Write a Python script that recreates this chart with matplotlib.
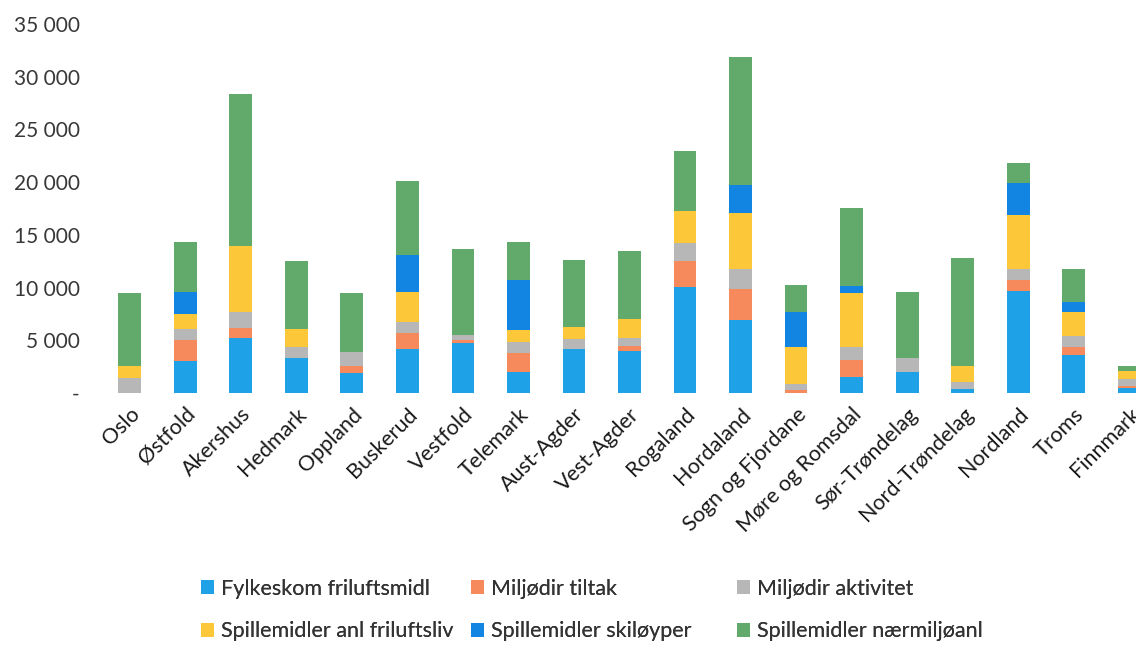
""" Stacked bars of outdoor recreation funding per county
"""

import numpy as np
import matplotlib
matplotlib.use('Agg')
import matplotlib.pyplot as plt
from matplotlib.ticker import FuncFormatter


counties = ['Oslo', 'Østfold', 'Akershus', 'Hedmark', 'Oppland', 'Buskerud',
            'Vestfold', 'Telemark', 'Aust-Agder', 'Vest-Agder', 'Rogaland',
            'Hordaland', 'Sogn og Fjordane', 'Møre og Romsdal', 'Sør-Trøndelag',
            'Nord-Trøndelag', 'Nordland', 'Troms', 'Finnmark']

fylkeskom = [0, 3000, 5200, 3300, 1900, 4200, 4700, 2000, 4200, 4000,
             10050, 6900, 0, 1500, 2000, 400, 9650, 3650, 500]
miljo_tiltak = [0, 2000, 950, 0, 700, 1450, 300, 1750, 0, 500,
                2450, 3000, 300, 1600, 0, 0, 1100, 700, 200]
miljo_aktivitet = [1400, 1100, 1550, 1050, 1250, 1050, 500, 1050, 950, 700,
                   1750, 1900, 600, 1250, 1300, 600, 1050, 1100, 600]
spill_friluftsliv = [1200, 1400, 6200, 1750, 0, 2850, 0, 1150, 1100, 1850,
                     3050, 5250, 3450, 5100, 0, 1600, 5050, 2200, 800]
spill_skiloyper = [0, 2050, 0, 0, 0, 3500, 0, 4750, 0, 0,
                   0, 2700, 3350, 700, 0, 0, 3050, 950, 0]
spill_naermiljo = [6850, 4750, 14500, 6400, 5600, 7050, 8200, 3600, 6400, 6450,
                   5700, 12150, 2500, 7350, 6250, 10250, 1950, 3200, 500]

series = [
    ('Fylkeskom friluftsmidl', fylkeskom, '#1ea1e6'),
    ('Miljødir tiltak', miljo_tiltak, '#f78a5c'),
    ('Miljødir aktivitet', miljo_aktivitet, '#b7b7b7'),
    ('Spillemidler anl friluftsliv', spill_friluftsliv, '#fcc83a'),
    ('Spillemidler skiløyper', spill_skiloyper, '#1285e3'),
    ('Spillemidler nærmiljøanl', spill_naermiljo, '#62a96c'),
]

plt.rcParams['font.family'] = ['Lato', 'DejaVu Sans']

fig = plt.figure(figsize=(11.36, 6.5), dpi=100)
ax = fig.add_axes([0.0898, 0.3954, 0.9287, 0.5677])

x = np.arange(len(counties))
bottom = np.zeros(len(counties))
handles = []
for label, values, color in series:
    values = np.array(values, dtype=float)
    bars = ax.bar(x, values, width=0.41, bottom=bottom, color=color, label=label)
    handles.append(bars)
    bottom += values

ax.set_xlim(-0.5, len(counties) - 0.5)
ax.set_ylim(0, 35000)
ax.set_yticks(np.arange(0, 35001, 5000))
ax.yaxis.set_major_formatter(FuncFormatter(
    lambda v, pos: '-' if v == 0 else '{:,.0f}'.format(v).replace(',', ' ')))

for side in ['top', 'right', 'left', 'bottom']:
    ax.spines[side].set_visible(False)
ax.tick_params(axis='both', length=0)
ax.tick_params(axis='y', labelsize=15, labelcolor='#383838', pad=16)

ax.set_xticks(x)
ax.set_xticklabels(counties, rotation=45, ha='right', rotation_mode='anchor',
                   fontsize=15.5, color='#1a1a1a')
ax.tick_params(axis='x', pad=8)

# one small legend per column, the columns are not evenly spaced
columns = [(0, 3, 192), (1, 4, 462), (2, 5, 728)]
for top_idx, bottom_idx, left_px in columns:
    leg = fig.legend([handles[top_idx], handles[bottom_idx]],
                     [series[top_idx][0], series[bottom_idx][0]],
                     loc='lower left', bbox_to_anchor=(left_px / 1136, 0.0),
                     ncol=1, frameon=False, fontsize=15.5, labelcolor='#333333',
                     handlelength=0.6, handleheight=0.6, handletextpad=0.35,
                     labelspacing=1.05, borderpad=0.4, borderaxespad=0.0)
    fig.add_artist(leg)

fig.savefig('out.png', dpi=100)
